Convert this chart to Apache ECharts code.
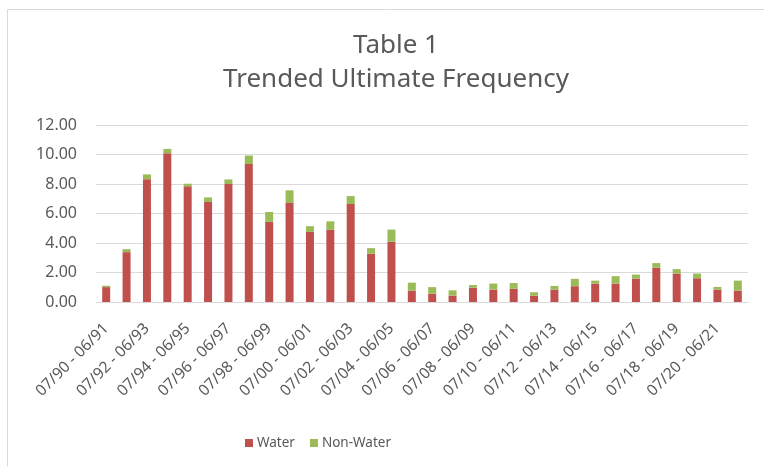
<!DOCTYPE html>
<html>
<head>
<meta charset="utf-8">
<script src="https://cdn.jsdelivr.net/npm/echarts@6/dist/echarts.min.js"></script>
<style>
  html, body { margin: 0; padding: 0; background: #fff; }
  #chart { width: 764px; height: 466px; }
</style>
</head>
<body>
<div id="chart"></div>
<script>
const periods = [];
for (let y = 90; y < 122; y++) {
  const a = String(y % 100).padStart(2, '0');
  const b = String((y + 1) % 100).padStart(2, '0');
  periods.push('07/' + a + ' - 06/' + b);
}

const water = [1.01, 3.38, 8.33, 10.09, 7.84, 6.78, 8.00, 9.35, 5.43, 6.71, 4.75,
  4.89, 6.64, 3.27, 4.08, 0.77, 0.56, 0.43, 0.97, 0.84, 0.90, 0.43,
  0.84, 1.07, 1.25, 1.25, 1.59, 2.32, 1.93, 1.61, 0.84, 0.77];
const totals = [1.10, 3.58, 8.65, 10.38, 8.02, 7.09, 8.31, 9.93, 6.10, 7.57, 5.14,
  5.47, 7.18, 3.65, 4.91, 1.31, 1.01, 0.79, 1.15, 1.25, 1.29, 0.66,
  1.09, 1.57, 1.45, 1.75, 1.86, 2.64, 2.23, 1.93, 1.02, 1.45];
const nonWater = totals.map((t, i) => +(t - water[i]).toFixed(2));

const textColor = '#595959';
const font = 'Noto Sans';

const chart = echarts.init(document.getElementById('chart'));
chart.setOption({
  backgroundColor: '#fff',
  animation: false,
  graphic: [{
    type: 'rect',
    shape: { x: 7.5, y: 9.5, width: 800, height: 500 },
    style: { fill: 'none', stroke: '#d9d9d9', lineWidth: 1 },
    silent: true
  }],
  title: {
    text: 'Table 1\nTrended Ultimate Frequency',
    left: 391,
    textAlign: 'center',
    top: 24,
    textStyle: { fontFamily: font, fontSize: 26, fontWeight: 'normal', color: textColor, lineHeight: 34, align: 'center' }
  },
  legend: {
    data: ['Water', 'Non-Water'],
    top: 431,
    left: 240,
    icon: 'rect',
    itemWidth: 8,
    itemHeight: 8,
    itemGap: 15,
    textStyle: { fontFamily: font, fontSize: 13.5, color: textColor, padding: [0, 0, 0, -1] }
  },
  grid: { left: 96, right: 16, top: 125, bottom: 164 },
  xAxis: {
    type: 'category',
    data: periods,
    axisTick: { show: false },
    axisLine: { lineStyle: { color: '#d9d9d9' } },
    axisLabel: {
      interval: 1,
      rotate: 45,
      fontFamily: font,
      fontSize: 15.5,
      color: textColor,
      margin: 24
    }
  },
  yAxis: {
    type: 'value',
    min: 0,
    max: 12,
    interval: 2,
    axisLabel: {
      fontFamily: font,
      fontSize: 16,
      color: textColor,
      margin: 19,
      formatter: v => v.toFixed(2)
    },
    splitLine: { lineStyle: { color: '#d9d9d9' } }
  },
  series: [
    {
      name: 'Water',
      type: 'bar',
      stack: 'total',
      data: water,
      barWidth: 8,
      itemStyle: { color: '#c0504d' }
    },
    {
      name: 'Non-Water',
      type: 'bar',
      stack: 'total',
      data: nonWater,
      barWidth: 8,
      itemStyle: { color: '#9bbb59' }
    }
  ]
});
</script>
</body>
</html>
